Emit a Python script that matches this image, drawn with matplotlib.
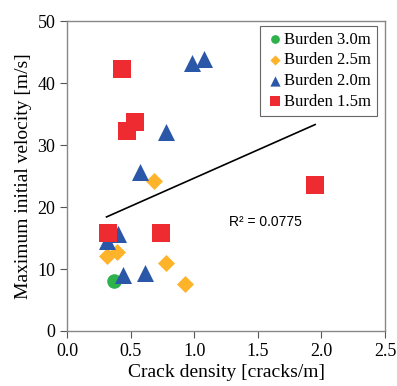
import matplotlib
matplotlib.use("Agg")
import matplotlib.pyplot as plt

# Data
b30_x = [0.37]
b30_y = [8.0]
b25_x = [0.68, 0.31, 0.39, 0.78, 0.93]
b25_y = [24.2, 12.1, 12.8, 10.9, 7.6]
b20_x = [0.98, 1.08, 0.78, 0.57, 0.40, 0.31, 0.44, 0.61]
b20_y = [43.3, 43.8, 32.1, 25.6, 15.7, 14.5, 9.0, 9.3]
b15_x = [0.43, 0.47, 0.53, 1.95, 0.32, 0.74]
b15_y = [42.3, 32.3, 33.7, 23.6, 15.8, 15.8]
trend_x = [0.31, 1.95]
trend_y = [18.4, 33.3]
labels = ["Burden 3.0m", "Burden 2.5m", "Burden 2.0m", "Burden 1.5m"]

plt.rcParams['font.family'] = ['Liberation Serif', 'DejaVu Serif']

fig = plt.figure(figsize=(3.97, 3.86), dpi=100)
ax = fig.add_axes([0.169, 0.1425, 0.801, 0.803])

ax.scatter(b30_x, b30_y, marker='o', s=110, color='#2EB24B', label=labels[0], zorder=3, linewidths=0)
ax.scatter(b25_x, b25_y, marker='D', s=75, color='#FDB42B', label=labels[1], zorder=3, linewidths=0)
ax.scatter(b20_x, b20_y, marker='^', s=150, color='#2A57A8', label=labels[2], zorder=3, linewidths=0)
ax.scatter(b15_x, b15_y, marker='s', s=150, color='#EE2B30', label=labels[3], zorder=3, linewidths=0)
ax.plot(trend_x, trend_y, color='black', lw=1.2, zorder=2)

ax.text(1.27, 17.6, "R² = 0.0775", fontsize=10, family=['Liberation Sans', 'DejaVu Sans'], va='center', ha='left')

ax.set_xlim(0, 2.5)
ax.set_ylim(0, 50)
ax.set_xticks([0.0, 0.5, 1.0, 1.5, 2.0, 2.5])
ax.set_xticklabels(["0.0", "0.5", "1.0", "1.5", "2.0", "2.5"])
ax.set_yticks([0, 10, 20, 30, 40, 50])
ax.tick_params(axis='both', direction='out', labelsize=13, length=5, color='#555555', top=False, right=False)
for s in ax.spines.values():
    s.set_color('#888888')
    s.set_linewidth(1.0)
ax.set_xlabel("Crack density [cracks/m]", fontsize=14, labelpad=3)
ax.set_ylabel("Maximum initial velocity [m/s]", fontsize=14, labelpad=4)

leg = ax.legend(loc='upper right', bbox_to_anchor=(0.975, 0.984), fontsize=12, markerscale=0.6,
                handlelength=1.1, handletextpad=0.0, borderpad=0.35, labelspacing=0.28,
                borderaxespad=0, fancybox=False, edgecolor='#666666', framealpha=1, scatterpoints=1)
leg.get_frame().set_linewidth(0.8)

fig.savefig("out.png", dpi=100)
